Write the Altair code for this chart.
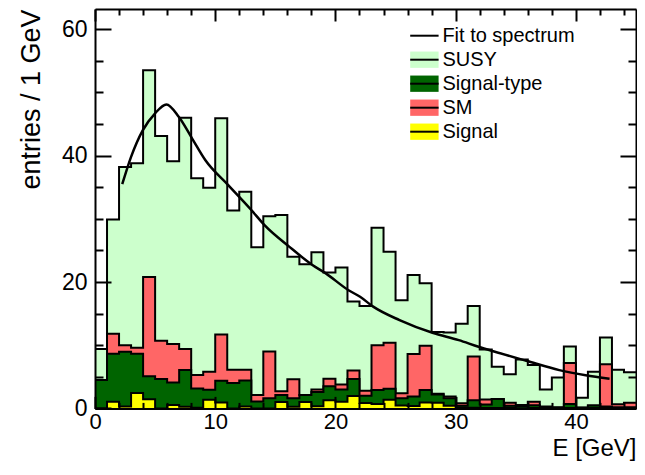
import altair as alt
import pandas as pd

# ---- values: 1 GeV bins from 0 to 45 GeV ----
bin_low = list(range(45))
susy = [9.4, 29.9, 38.2, 38.8, 53.5, 43.1, 39.1, 46.0, 36.4, 34.9,
        45.9, 31.3, 34.3, 25.5, 30.4, 30.6, 24.0, 22.8, 24.7, 21.5,
        22.3, 16.9, 16.2, 28.6, 24.8, 17.1, 21.1, 19.8, 12.1, 12.0,
        13.4, 16.2, 9.3, 6.6, 5.4, 7.75, 6.85, 3.0, 4.9, 9.8,
        1.7, 5.8, 11.2, 6.1, 5.7]
sm = [4.5, 11.8, 10.0, 9.6, 20.8, 10.7, 10.2, 9.4, 5.3, 5.8,
      11.7, 6.1, 6.1, 2.1, 9.0, 2.7, 4.6, 2.1, 3.0, 4.7,
      3.8, 6.0, 2.8, 10.0, 10.4, 2.4, 8.6, 9.9, 2.3, 1.9,
      0.8, 8.2, 1.4, 1.5, 0.9, 0.55, 1.05, 0.3, 0.2, 7.2,
      0.15, 0.45, 7.0, 0.65, 0.9]
signal_type = [4.5, 8.65, 8.96, 8.65, 5.1, 4.65, 4.1, 6.06, 3.16, 2.95,
               4.37, 4.0, 4.4, 1.1, 1.6, 2.1, 1.6, 2.1, 2.6, 3.5,
               3.0, 4.64, 2.0, 2.9, 3.1, 1.6, 1.9, 2.9, 2.2, 1.6,
               0.4, 1.3, 0.6, 1.5, 0.4, 0.3, 0.5, 0.2, 0.1, 0.7,
               0.1, 0.45, 0.3, 0.2, 0.2]
signal = [0.0, 1.05, 0.3, 2.45, 1.45, 0.0, 0.52, 0.26, 0.1, 1.35,
          0.95, 0.0, 0.3, 0.0, 0.0, 1.0, 0.25, 1.0, 0.35, 1.3,
          1.05, 1.95, 0.85, 0.7, 1.35, 0.45, 0.37, 0.95, 0.9, 0.4,
          0.1, 0.1, 0.05, 0.05, 0.05, 0.0, 0.05, 0.0, 0.0, 0.05,
          0.0, 0.05, 0.05, 0.0, 0.0]

# fit curve
fit_E = [2.27, 3.0, 3.97, 5.0, 5.94, 6.98, 8.08, 9.17, 11.1, 13.0,
         14.1, 16.15, 18.08, 19.17, 21.09, 22.05, 23.14, 25.33, 28.07, 30.26,
         31.9, 33.2, 35.88, 38.62, 40.81, 42.8]
fit_v = [35.5, 39.8, 44.0, 46.7, 48.1, 46.1, 42.7, 39.3, 35.3, 31.4,
         29.0, 25.6, 22.7, 21.4, 18.7, 17.66, 16.1, 13.97, 11.96, 10.8,
         9.75, 9.0, 7.53, 6.06, 5.25, 4.7]

names = ["Fit to spectrum", "SUSY", "Signal-type", "SM", "Signal"]
fill_colors = ["transparent", "#ccffcc", "#006400", "#ff6666", "#ffff00"]

x_major = [0, 10, 20, 30, 40]
x_minor = [v for v in range(2, 45, 2) if v % 10 != 0]
y_major = [0, 20, 40, 60]
y_minor = [v for v in range(5, 65, 5) if v % 20 != 0]

FONT = "Liberation Sans"
PAD_L, PAD_T = 87, 1
W, H = 541, 399.4
YMAX = 63.2

xs = alt.Scale(domain=[0, 45], nice=False, zero=False)
ys = alt.Scale(domain=[0, YMAX], nice=False, zero=False)
fill_scale = alt.Scale(domain=names, range=fill_colors)
# an extra unused entry keeps this legend separate from the fill legend
stroke_scale = alt.Scale(domain=names + ["(unused)"], range=["black"] * (len(names) + 1))


def step_frame(name, vals):
    e = bin_low + [bin_low[-1] + 1]
    v = list(vals) + [vals[-1]]
    return pd.DataFrame({"E": e, "v": v, "name": name, "label": name})


def tick_axis(orient, vals, size, offset=0.0, domain=False):
    kw = dict(orient=orient, values=vals, tickSize=size, tickWidth=2,
              tickColor="black", labels=False, domain=domain, grid=False,
              title="", zindex=1, offset=offset)
    if domain:
        kw.update(domainColor="black", domainWidth=2)
    return alt.Axis(**kw)


x_main = alt.Axis(orient="bottom", values=x_major, ticks=False, tickSize=0,
                  domain=True, domainColor="black", domainWidth=2, grid=False,
                  labelFontSize=22, labelFont=FONT, labelColor="black",
                  labelPadding=3, labelFlush=False, zindex=1,
                  title="E [GeV]", titleFont=FONT, titleFontSize=24,
                  titleFontWeight="normal", titleColor="black",
                  titleAnchor="end", titleAlign="right", titleX=W,
                  titleY=47.5, titleBaseline="alphabetic")
y_main = alt.Axis(orient="left", values=y_major, ticks=False, tickSize=0,
                  domain=True, domainColor="black", domainWidth=2, grid=False,
                  labelFontSize=23, labelFont=FONT, labelColor="black",
                  labelPadding=8, labelFlush=False, zindex=1,
                  title="entries / 1 GeV", titleFont=FONT, titleFontSize=27,
                  titleFontWeight="normal", titleColor="black",
                  titleAnchor="end", titleAlign="right", titleAngle=270,
                  titleX=-56, titleY=0, titleBaseline="alphabetic")

axes = [
    (x_main, y_main),
    (tick_axis("top", x_major, 12, -H), tick_axis("right", y_major, 16, -W)),
    (tick_axis("top", x_minor, 6, -H), tick_axis("right", y_minor, 8, -W)),
    (tick_axis("bottom", x_major, 12, -H, True), tick_axis("left", y_major, 16, -W, True)),
    (tick_axis("bottom", x_minor, 6, -H), tick_axis("left", y_minor, 8, -W)),
]

LEG_X = 414.4 - (PAD_L + 8)
LEG_Y = 25.7 - (PAD_T + 8)
SYM = 265.7
fill_legend = alt.Legend(orient="none", legendX=LEG_X, legendY=LEG_Y, title=None,
                         symbolType="M-1.742,-1H1.742V1H-1.742Z", symbolSize=SYM,
                         symbolStrokeWidth=0, labelColor="transparent",
                         labelFontSize=20, labelFont=FONT, labelOffset=8,
                         rowPadding=4, padding=0)
stroke_legend = alt.Legend(orient="none", legendX=LEG_X, legendY=LEG_Y, title=None,
                           values=names,
                           symbolType="M-1.742,0H1.742", symbolSize=SYM,
                           symbolStrokeWidth=2, symbolFillColor="transparent",
                           labelColor="black", labelFontSize=20, labelFont=FONT,
                           labelOffset=8, rowPadding=4, padding=0)

layers = []
axis_i = 0
for name, vals in [("SUSY", susy), ("SM", sm), ("Signal-type", signal_type), ("Signal", signal)]:
    df = step_frame(name, vals)
    for kind in ("area", "line"):
        if axis_i < len(axes):
            ax_x, ax_y = axes[axis_i]
        else:
            ax_x, ax_y = None, None
        axis_i += 1
        base = alt.Chart(df)
        if kind == "area":
            mark = base.mark_area(interpolate="step-after", strokeWidth=0)
            enc = dict(fill=alt.Fill("name:N", scale=fill_scale, legend=fill_legend))
        else:
            mark = base.mark_line(interpolate="step-after", strokeWidth=2)
            enc = dict(stroke=alt.Stroke("label:N", scale=stroke_scale, legend=stroke_legend))
        layers.append(mark.encode(
            x=alt.X("E:Q", scale=xs, axis=ax_x),
            y=alt.Y("v:Q", scale=ys, axis=ax_y, stack=None),
            **enc))

fit_df = pd.DataFrame({"E": fit_E, "v": fit_v, "label": "Fit to spectrum"})
layers.append(alt.Chart(fit_df).mark_line(interpolate="monotone", strokeWidth=2.5).encode(
    x=alt.X("E:Q", scale=xs, axis=None),
    y=alt.Y("v:Q", scale=ys, axis=None),
    stroke=alt.Stroke("label:N", scale=stroke_scale, legend=stroke_legend)))

chart = alt.layer(*layers).resolve_axis(x="independent", y="independent").properties(
    width=W, height=H,
    padding={"left": PAD_L, "top": PAD_T, "right": 1, "bottom": 57},
    autosize=alt.AutoSizeParams(type="none"),
    background="white",
).configure_view(strokeWidth=0).configure(font=FONT)

chart.save("out.html", embed_options={"renderer": "svg", "actions": False})
